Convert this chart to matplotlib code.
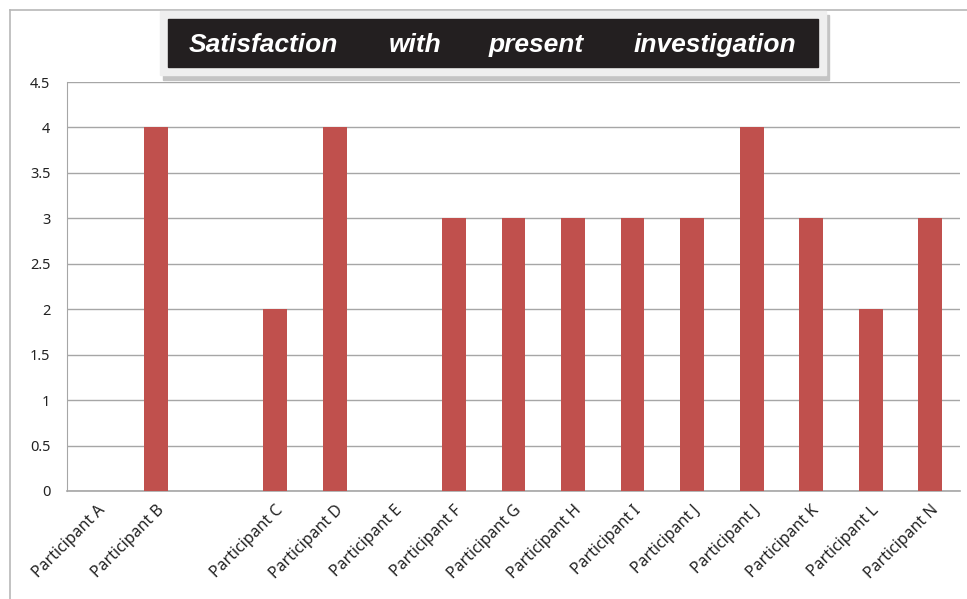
import numpy as np
import matplotlib
matplotlib.use('Agg')
import matplotlib.pyplot as plt
from matplotlib.patches import Rectangle
from matplotlib.lines import Line2D

# Данные опроса
participants = ["Participant A", "Participant B", "", "Participant C", "Participant D",
                "Participant E", "Participant F", "Participant G", "Participant H",
                "Participant I", "Participant J", "Participant J", "Participant K",
                "Participant L", "Participant N"]
scores = [0, 4, 0, 2, 4, 0, 3, 3, 3, 3, 3, 4, 3, 2, 3]
yticks = [0, 0.5, 1, 1.5, 2, 2.5, 3, 3.5, 4, 4.5]
title_words = ["Satisfaction", "with", "present", "investigation"]

W, H = 967, 599
fig = plt.figure(figsize=(W / 100, H / 100), dpi=100)
ax = fig.add_axes([67 / W, 1 - 491 / H, 893 / W, 409 / H])

x = np.arange(len(participants))
ax.bar(x, scores, width=0.4, color="#C0504D", zorder=3)

ax.set_xlim(-0.5, len(participants) - 0.5)
ax.set_ylim(0, 4.5)
ax.set_yticks(yticks)
ax.set_yticklabels([f"{t:g}" for t in yticks], fontsize=10.5, family="Noto Sans", color="#222222")
ax.set_xticks(x)
ax.set_xticklabels(participants, rotation=45, ha="right", rotation_mode="anchor",
                   fontsize=11.5, family="Noto Sans", color="#222222")
ax.tick_params(axis="x", length=0, pad=8)
ax.tick_params(axis="y", length=0, pad=12)
ax.yaxis.grid(True, color="#A6A6A6", linewidth=1, zorder=0)
for side in ["top", "right"]:
    ax.spines[side].set_visible(False)
ax.spines["left"].set_color("#A6A6A6")
ax.spines["bottom"].set_color("#A6A6A6")
ax.spines["bottom"].set_linewidth(1.2)

# Рамка диаграммы
def fx(px):
    return px / W

def fy(py):
    return 1 - py / H

fig.add_artist(Line2D([fx(10), fx(10)], [fy(10), 0], color="#B8B8B8", lw=1.2))
fig.add_artist(Line2D([fx(10), 1], [fy(10), fy(10)], color="#B8B8B8", lw=1.2))

# Заголовок в рамке с тенью
fig.add_artist(Rectangle((fx(163), fy(80)), fx(829) - fx(163), fy(15) - fy(80),
                         transform=fig.transFigure, color="#C4C4C4", zorder=5))
fig.add_artist(Rectangle((fx(160), fy(75)), fx(826) - fx(160), fy(11) - fy(75),
                         transform=fig.transFigure, color="#EFEFEF", zorder=6))
fig.add_artist(Rectangle((fx(168), fy(67)), fx(818) - fx(168), fy(19) - fy(67),
                         transform=fig.transFigure, color="#231F20", zorder=7))
word_x = [189, 389, 489, 634]
for wx, word in zip(word_x, title_words):
    fig.text(fx(wx), fy(45), word, ha="left", va="center", color="white",
             fontsize=19, fontweight="bold", fontstyle="italic",
             family="Liberation Sans", zorder=8)

fig.savefig("out.png", dpi=100)
